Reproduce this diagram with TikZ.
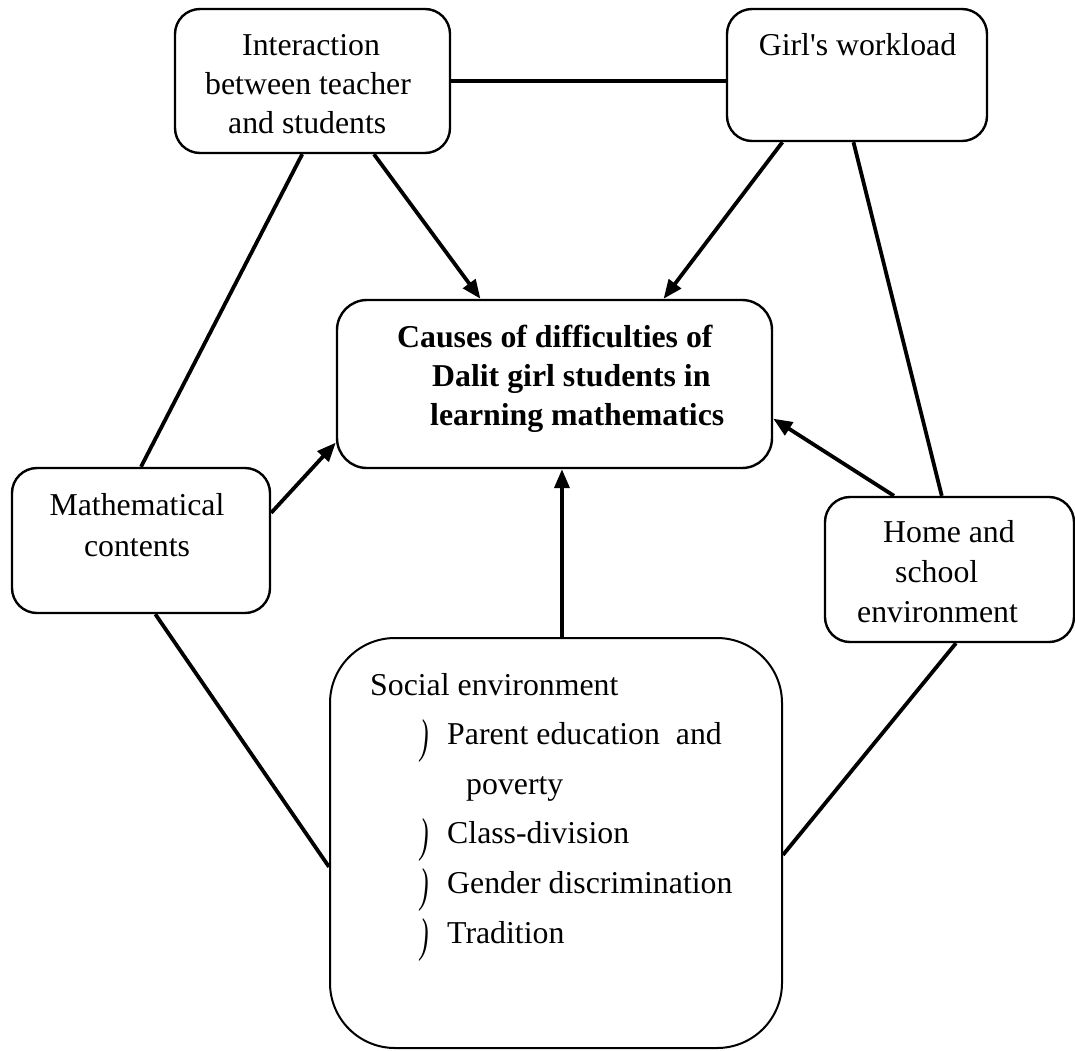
\documentclass[tikz,border=0pt]{standalone}
\usepackage{fontspec}
\setmainfont{Liberation Serif}
\usepackage{graphicx}
\usetikzlibrary{arrows.meta}
\tikzset{>={Triangle[length=19pt,width=15pt]}}
\tikzset{
    box/.style={draw,line width=2.4pt,rounded corners=25pt,inner sep=0pt},
    link/.style={line width=3.8pt},
    txt/.style={font=\fontsize{31.8}{39}\selectfont,inner sep=0pt,align=left}
}
\newcommand\blt{\makebox[27pt][l]{\raisebox{-8pt}{\scalebox{0.8}[1.5]{\itshape )}}}}

\begin{document}
\begin{tikzpicture}[x=1pt,y=-1pt]
    \useasboundingbox (0,0) rectangle (1075,1050);
    \node[box,minimum width=275pt,minimum height=144pt] (inter) at (312.5,81) {};
    \node[box,minimum width=260pt,minimum height=132pt] (girl) at (857,75) {};
    \node[box,rounded corners=30pt,minimum width=435pt,minimum height=168pt] (causes) at (554.5,384) {};
    \node[box,minimum width=258pt,minimum height=145pt] (math) at (141,540.5) {};
    \node[box,minimum width=249pt,minimum height=145pt] (home) at (949.5,569.5) {};
    \node[box,line width=2pt,rounded corners=65pt,minimum width=452pt,minimum height=410pt] (social) at (556,843) {};
    % base anchor = baseline of the last line
    \node[txt,anchor=base west] (intertxt) at (205,133) {\hspace*{37pt}Interaction\\between teacher\\\hspace*{23pt}and students};
    \node[txt,anchor=base] (girltxt) at (857.5,55) {Girl\textquotesingle s workload};
    \node[txt,anchor=base west,font=\fontsize{31.8}{39}\selectfont\bfseries] (causestxt) at (397,425) {Causes of difficulties of\\\hspace*{35pt}Dalit girl students in\\\hspace*{33pt}learning mathematics};
    \node[txt,anchor=base,align=center,font=\fontsize{31.8}{41}\selectfont] (mathtxt) at (137,556) {Mathematical\\contents};
    \node[txt,anchor=base west,font=\fontsize{31.8}{40}\selectfont] (hometxt) at (857,622) {\hspace*{26pt}Home and\\\hspace*{38pt}school\\environment};
    \node[txt,anchor=base west,font=\fontsize{31.8}{49.6}\selectfont] (socialtxt) at (370,943) {Social environment\\
        \hspace*{50pt}\blt Parent education~~and\\
        \hspace*{96pt}poverty\\
        \hspace*{50pt}\blt Class-division\\
        \hspace*{50pt}\blt Gender discrimination\\
        \hspace*{50pt}\blt Tradition};
    \draw[link] (inter.east) -- (inter.east -| girl.west);
    \draw[link] (inter.-98) -- (math.north);
    \draw[link] (girl.-93.5) -- (home.96);
    \draw[link] (math.-79) -- (social.186.8);
    \draw[link] (home.-85.7) -- (social.-3.5);
    \draw[link,->] (inter.-50) -- (causes.131);
    \draw[link,->] (girl.-138.3) -- (causes.38.5);
    \draw[link,->] (math.12.5) -- (causes.195.2);
    \draw[link,->] (home.127.9) -- (causes.-9.4);
    \draw[link,->] (social.north -| causes.-85) -- (causes.-85);
\end{tikzpicture}
\end{document}
